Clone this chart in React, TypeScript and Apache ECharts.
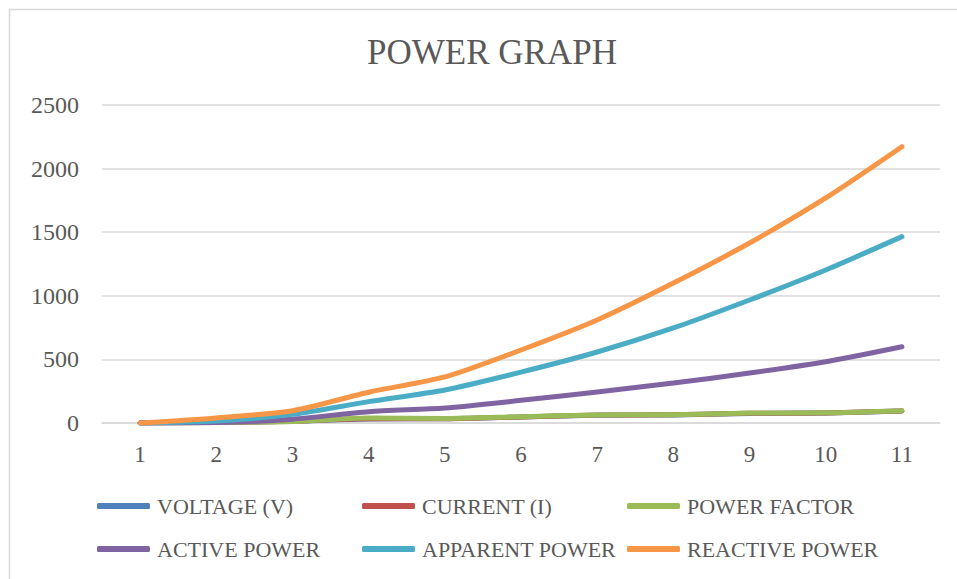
import React, { useEffect, useRef } from "react";
import * as echarts from "echarts";

const categories = ["1", "2", "3", "4", "5", "6", "7", "8", "9", "10", "11"];
const voltage = [0, 4, 13, 32, 33, 47, 61, 63, 75, 78, 94];
const current = [0, 4, 14, 33, 34, 48, 62, 64, 76, 79, 95];
const powerFactor = [0, 5, 12, 40, 36, 50, 63, 65, 78, 80, 97];
const activePower = [0, 3, 30, 89, 118, 178, 244, 314, 393, 482, 600];
const apparentPower = [0, 15, 68, 168, 260, 400, 558, 747, 967, 1203, 1465];
const reactivePower = [0, 40, 97, 242, 362, 574, 810, 1100, 1415, 1769, 2172];

const seriesNames = [
  "VOLTAGE (V)",
  "CURRENT (I)",
  "POWER FACTOR",
  "ACTIVE POWER",
  "APPARENT POWER",
  "REACTIVE POWER",
];
const seriesData = [voltage, current, powerFactor, activePower, apparentPower, reactivePower];
const colors = ["#4f81bd", "#c0504d", "#9bbb59", "#8064a2", "#4bacc6", "#f79646"];

const FONT = "'Liberation Serif', 'DejaVu Serif', serif";
const TEXT = "#595959";

export default function App() {
  const ref = useRef<HTMLDivElement>(null);
  useEffect(() => {
    if (!ref.current) return;
    const chart = echarts.init(ref.current, undefined, { renderer: "svg" });
    const legendBase = {
      orient: "vertical" as const,
      top: 490,
      icon: "roundRect",
      itemWidth: 53,
      itemHeight: 6,
      itemGap: 21,
      textStyle: { fontFamily: FONT, fontSize: 22, color: TEXT, lineHeight: 22, padding: [0, 0, 0, 2] },
    };
    chart.setOption({
      animation: false,
      color: colors,
      title: {
        text: "POWER GRAPH",
        left: 487,
        top: 30,
        textAlign: "center",
        textStyle: { fontFamily: FONT, fontSize: 35, fontWeight: "normal", color: TEXT },
      },
      graphic: [
        {
          type: "rect",
          shape: { x: 9.5, y: 9.5, width: 1000, height: 620 },
          style: { fill: "none", stroke: "#d9d9d9", lineWidth: 1.5 },
          silent: true,
        },
      ],
      legend: [
        { ...legendBase, left: 92, data: [seriesNames[0], seriesNames[3]] },
        { ...legendBase, left: 357, data: [seriesNames[1], seriesNames[4]] },
        { ...legendBase, left: 622, data: [seriesNames[2], seriesNames[5]] },
      ],
      grid: { left: 102, right: 17, top: 105, bottom: 156, containLabel: false },
      xAxis: {
        type: "category",
        data: categories,
        boundaryGap: true,
        axisLine: { show: true, lineStyle: { color: "#d9d9d9", width: 1.5 } },
        axisTick: { show: false },
        axisLabel: { fontFamily: FONT, fontSize: 23, color: TEXT, margin: 20 },
      },
      yAxis: {
        type: "value",
        min: 0,
        max: 2500,
        interval: 500,
        axisLine: { show: false },
        axisTick: { show: false },
        axisLabel: {
          fontFamily: FONT,
          fontSize: 24,
          color: TEXT,
          margin: 23,
          formatter: (v: number) => String(v),
        },
        splitLine: { lineStyle: { color: "#d9d9d9", width: 1.5 } },
      },
      series: seriesNames.map((name, i) => ({
        name,
        type: "line",
        data: seriesData[i],
        smooth: 0.25,
        symbol: "none",
        lineStyle: { width: 5, color: colors[i], cap: "round", join: "round" },
        itemStyle: { color: colors[i] },
      })),
    });
    return () => chart.dispose();
  }, []);
  return (
    <div
      ref={ref}
      style={{ position: "fixed", left: 0, top: 0, width: 957, height: 579, background: "#fff" }}
    />
  );
}
